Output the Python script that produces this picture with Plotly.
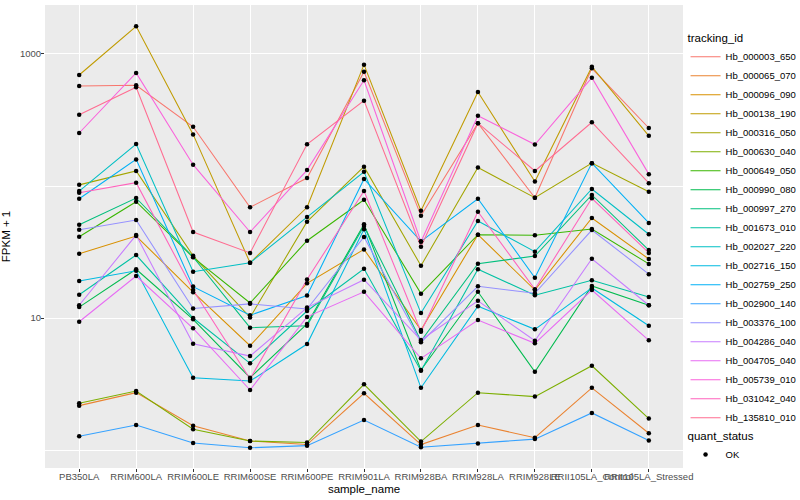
import plotly.graph_objects as go

samples = ["PB350LA", "RRIM600LA", "RRIM600LE", "RRIM600SE", "RRIM600PE", "RRIM901LA",
           "RRIM928BA", "RRIM928LA", "RRIM928LE", "RRII105LA_Control", "RRII105LA_Stressed"]

tracking_ids = ["Hb_000003_650", "Hb_000065_070", "Hb_000096_090", "Hb_000138_190",
                "Hb_000316_050", "Hb_000630_040", "Hb_000649_050", "Hb_000990_080",
                "Hb_000997_270", "Hb_001673_010", "Hb_002027_220", "Hb_002716_150",
                "Hb_002759_250", "Hb_002900_140", "Hb_003376_100", "Hb_004286_040",
                "Hb_004705_040", "Hb_005739_010", "Hb_031042_040", "Hb_135810_010"]

colors = ["#F8766D", "#EA8331", "#D89000", "#C09B00", "#A3A500", "#7CAE00", "#39B600",
          "#00BB4E", "#00BF7D", "#00C1A3", "#00BFC4", "#00BAE0", "#00B0F6", "#35A2FF",
          "#9590FF", "#C77CFF", "#E76BF3", "#FA62DB", "#FF62BC", "#FF6C91"]

# FPKM + 1 per sample (same order as samples)
hb_000003_650 = [573, 579, 281, 69.0, 115, 734, 59.6, 299, 81.5, 779, 275]
hb_000065_070 = [2.17, 2.72, 1.53, 1.17, 1.10, 2.69, 1.10, 1.55, 1.24, 2.96, 1.34]
hb_000096_090 = [30.7, 41.8, 15.7, 6.17, 18.3, 33.1, 8.11, 42.8, 16.3, 57.2, 28.0]
hb_000138_190 = [693, 1622, 246, 26.2, 69.0, 830, 65.0, 515, 108, 800, 240]
hb_000316_050 = [102, 130, 29.6, 10.1, 53.7, 140, 24.9, 138, 81.5, 149, 90.5]
hb_000630_040 = [2.26, 2.80, 1.44, 1.17, 1.14, 3.15, 1.16, 2.72, 2.54, 4.35, 1.73]
hb_000649_050 = [41.3, 76.0, 28.8, 13.0, 38.5, 78.7, 15.3, 42.8, 42.3, 47.2, 25.7]
hb_000990_080 = [12.1, 23.4, 9.77, 3.53, 9.01, 51.3, 4.04, 15.8, 3.92, 17.5, 12.5]
hb_000997_270 = [50.9, 81.1, 29.0, 8.45, 8.74, 49.8, 6.69, 25.8, 29.5, 85.5, 32.7]
hb_001673_010 = [15.0, 30.0, 10.0, 4.54, 11.3, 23.6, 3.99, 23.4, 14.9, 19.3, 14.4]
hb_002027_220 = [91.6, 208, 22.4, 26.2, 58.2, 128, 10.9, 54.3, 31.8, 94.9, 43.1]
hb_002716_150 = [19.1, 22.8, 3.53, 3.33, 6.35, 47.0, 2.96, 12.3, 8.21, 16.9, 8.74]
hb_002759_250 = [80.1, 159, 17.3, 10.5, 14.8, 113, 38.1, 80.1, 20.2, 149, 52.5]
hb_002900_140 = [1.27, 1.55, 1.13, 1.04, 1.08, 1.69, 1.05, 1.12, 1.21, 1.91, 1.18]
hb_003376_100 = [46.7, 55.2, 11.8, 12.8, 11.7, 41.1, 6.55, 17.4, 15.4, 46.4, 21.5]
hb_004286_040 = [12.5, 42.5, 6.39, 5.15, 12.0, 19.5, 6.81, 13.5, 6.73, 28.1, 12.5]
hb_004705_040 = [9.37, 20.8, 8.36, 2.85, 10.2, 15.8, 4.95, 9.66, 6.43, 16.3, 6.78]
hb_005739_010 = [252, 718, 145, 44.8, 132, 632, 37.8, 341, 206, 661, 123]
hb_031042_040 = [89.0, 106, 16.3, 3.45, 19.6, 91.6, 7.87, 63.9, 16.5, 80.7, 31.1]
hb_135810_010 = [347, 560, 44.8, 31.1, 207, 443, 34.7, 299, 130, 304, 105]

series_values = [hb_000003_650, hb_000065_070, hb_000096_090, hb_000138_190, hb_000316_050,
                 hb_000630_040, hb_000649_050, hb_000990_080, hb_000997_270, hb_001673_010,
                 hb_002027_220, hb_002716_150, hb_002759_250, hb_002900_140, hb_003376_100,
                 hb_004286_040, hb_004705_040, hb_005739_010, hb_031042_040, hb_135810_010]

FONT = "Liberation Sans, Arial, sans-serif"

fig = go.Figure()
for name, vals, col in zip(tracking_ids, series_values, colors):
    fig.add_trace(go.Scatter(x=samples, y=vals, mode="lines", name=name,
                             line=dict(color=col, width=1.05), legend="legend"))

all_x, all_y = [], []
for vals in series_values:
    all_x += samples
    all_y += vals
fig.add_trace(go.Scatter(x=all_x, y=all_y, mode="markers", name="OK",
                         marker=dict(color="black", size=4.5, symbol="circle"),
                         legend="legend2"))

fig.update_layout(
    width=800, height=500,
    margin=dict(l=45, r=117, t=5, b=32, autoexpand=False),
    paper_bgcolor="white", plot_bgcolor="#EBEBEB",
    font=dict(family=FONT, size=10, color="black"),
    xaxis=dict(type="category", range=[-0.6, 10.6], showgrid=True, gridcolor="white",
               gridwidth=1.1, ticks="outside", ticklen=3, tickcolor="#333333",
               tickfont=dict(size=9.5, color="#4D4D4D"), zeroline=False, ticklabelstandoff=-3,
               showline=False, title=dict(text="sample_name", font=dict(size=11.5), standoff=3),
               tickangle=0, automargin=False),
    yaxis=dict(type="log", range=[-0.136, 3.371], tickvals=[10, 1000], ticktext=["10", "1000"],
               showgrid=True, gridcolor="white", gridwidth=1.1, ticks="outside", ticklen=3,
               tickcolor="#333333", tickfont=dict(size=9.5, color="#4D4D4D"), zeroline=False,
               showline=False, automargin=True, ticklabelstandoff=-2,
               minor=dict(tickvals=[1, 100], showgrid=True, gridcolor="white", gridwidth=0.55, ticks=""),
               title=dict(text="FPKM + 1", font=dict(size=11.5), standoff=6)),
    legend=dict(x=1.004, xanchor="left", y=0.952, yanchor="top",
                title=dict(text="tracking_id", font=dict(size=11.5)),
                font=dict(size=9.5), bgcolor="rgba(0,0,0,0)", tracegroupgap=0, itemwidth=30),
    legend2=dict(x=1.004, xanchor="left", y=0.093, yanchor="top",
                 title=dict(text="quant_status", font=dict(size=11.5)),
                 font=dict(size=9.5), bgcolor="rgba(0,0,0,0)", itemwidth=30),
)

fig.write_html("out.html", config={"displayModeBar": False},
               post_script="document.body.style.margin='0px';")
